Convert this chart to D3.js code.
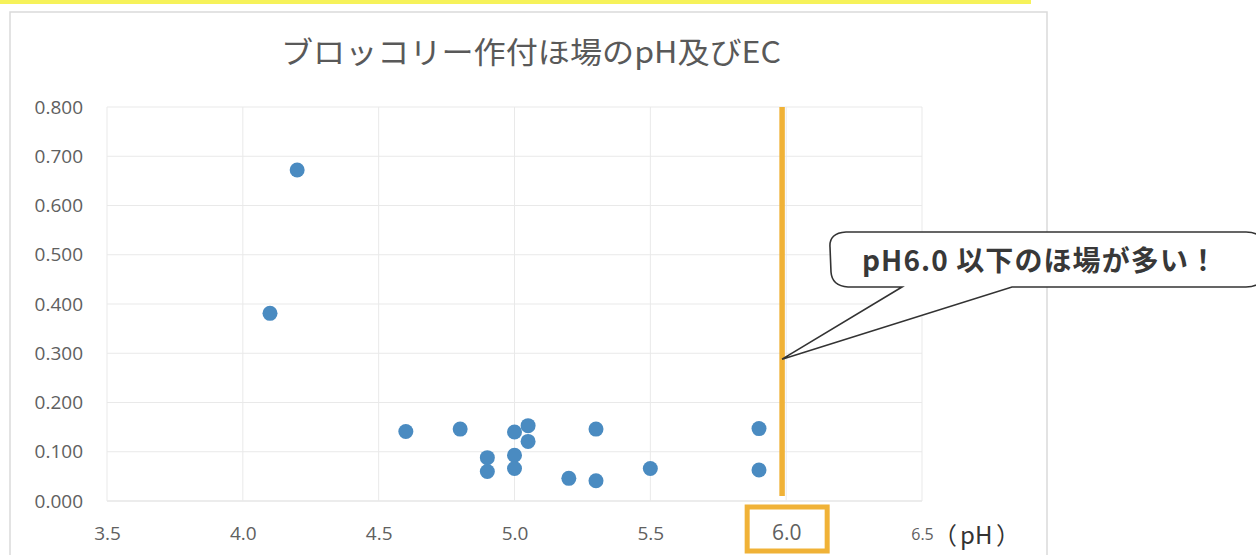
<!DOCTYPE html>
<html lang="ja">
<head>
<meta charset="utf-8">
<script src="https://cdn.jsdelivr.net/npm/d3@7"></script>
<style>
  html, body { margin: 0; padding: 0; background: #ffffff; }
  svg { display: block; }
</style>
</head>
<body>
<svg id="chart" width="1256" height="555"></svg>
<script>
// ブロッコリー作付ほ場の土壌 pH と EC（散布図）
const phValues = [4.2, 4.1, 4.6, 4.8, 4.9, 4.9, 5.0, 5.0, 5.0, 5.05, 5.05, 5.2, 5.3, 5.3, 5.5, 5.9, 5.9];
const ecValues = [0.672, 0.381, 0.141, 0.146, 0.088, 0.060, 0.140, 0.093, 0.066, 0.153, 0.121, 0.046, 0.146, 0.041, 0.066, 0.147, 0.063];

const xTicks = [3.5, 4.0, 4.5, 5.0, 5.5, 6.0, 6.5];
const yTicks = [0, 0.1, 0.2, 0.3, 0.4, 0.5, 0.6, 0.7, 0.8];

const titleText = "ブロッコリー作付ほ場のpH及びEC";
const calloutText = "pH6.0 以下のほ場が多い！";
const xUnitParts = ["（", "pH", "）"];

// pH 6.0 の目安線（手描きの縦線）と吹き出しの指す位置
const thresholdPH = 5.985;
const thresholdTop = 0.8;
const thresholdBottom = 0.01;
const pointerEC = 0.288;

const svg = d3.select("#chart");

const plot = { left: 107, right: 922, top: 107, bottom: 501 };
const x = d3.scaleLinear().domain([3.5, 6.5]).range([plot.left, plot.right]);
const y = d3.scaleLinear().domain([0, 0.8]).range([plot.bottom, plot.top]);

const tickFont = "'Open Sans', 'Noto Sans', sans-serif";
const jpFont = "'Noto Sans CJK JP', 'Noto Sans', sans-serif";

// 上端の黄色い帯
svg.append("rect")
  .attr("x", 0).attr("y", 0).attr("width", 1031).attr("height", 4)
  .attr("fill", "#f6f25a");

// グラフ枠
svg.append("rect")
  .attr("x", 10).attr("y", 12).attr("width", 1037).attr("height", 580)
  .attr("fill", "#ffffff").attr("stroke", "#dadada").attr("stroke-width", 1.5);

// タイトル
svg.append("text")
  .attr("x", 531).attr("y", 63)
  .attr("text-anchor", "middle")
  .attr("font-family", jpFont)
  .attr("font-size", 30)
  .attr("fill", "#595959")
  .attr("textLength", 500)
  .attr("lengthAdjust", "spacingAndGlyphs")
  .text(titleText);

// 目盛線
const grid = svg.append("g");
grid.selectAll("line.h").data(yTicks).join("line")
  .attr("class", "h")
  .attr("x1", plot.left).attr("x2", plot.right)
  .attr("y1", d => y(d)).attr("y2", d => y(d))
  .attr("stroke", d => d === 0 ? "#d9d9d9" : "#e9e9e9")
  .attr("stroke-width", 1);
grid.selectAll("line.v").data(xTicks).join("line")
  .attr("class", "v")
  .attr("x1", d => x(d)).attr("x2", d => x(d))
  .attr("y1", plot.top).attr("y2", plot.bottom)
  .attr("stroke", "#e9e9e9")
  .attr("stroke-width", 1);

// Y 軸
const yAxis = svg.append("g")
  .attr("transform", `translate(${plot.left},0)`)
  .call(d3.axisLeft(y).tickValues(yTicks).tickFormat(d3.format(".3f")).tickSize(0).tickPadding(24));
yAxis.select(".domain").remove();
yAxis.selectAll("text")
  .attr("font-family", tickFont).attr("font-size", 19).attr("fill", "#606060");

// X 軸（ラベルのベースラインをそろえる）
const xAxis = svg.append("g")
  .attr("transform", `translate(0,${plot.bottom})`)
  .call(d3.axisBottom(x).tickValues(xTicks).tickFormat(d3.format(".1f")).tickSize(0));
xAxis.select(".domain").remove();
xAxis.selectAll("text")
  .attr("dy", null)
  .attr("y", 39)
  .attr("font-family", tickFont)
  .attr("font-size", d => d === 6.0 ? 21 : (d === 6.5 ? 16 : 19))
  .attr("fill", "#606060");

// 6.0 の目盛ラベルを囲む枠
const boxed = 6.0;
svg.append("rect")
  .attr("x", x(boxed) - 39).attr("y", 507)
  .attr("width", 80).attr("height", 44)
  .attr("fill", "none")
  .attr("stroke", "#f0b237").attr("stroke-width", 5);

// 単位
const unit = svg.append("text")
  .attr("y", 544)
  .attr("font-family", jpFont)
  .attr("font-size", 24)
  .attr("fill", "#333333");
unit.selectAll("tspan").data(xUnitParts).join("tspan")
  .attr("x", (d, i) => [933, 960, 996][i])
  .text(d => d);

// 散布点
const points = phValues.map((ph, i) => ({ ph, ec: ecValues[i] }));
svg.append("g").selectAll("circle").data(points).join("circle")
  .attr("cx", d => x(d.ph))
  .attr("cy", d => y(d.ec))
  .attr("r", 7.5)
  .attr("fill", "#4a8bc1");

// pH 6.0 の縦線
svg.append("line")
  .attr("x1", x(thresholdPH)).attr("x2", x(thresholdPH))
  .attr("y1", y(thresholdTop)).attr("y2", y(thresholdBottom))
  .attr("stroke", "#f0b237").attr("stroke-width", 5.5);

// 吹き出し
const tipX = x(thresholdPH), tipY = y(pointerEC);
const bubble = d3.path();
bubble.moveTo(902, 287);
bubble.lineTo(tipX, tipY);
bubble.lineTo(1012, 287);
bubble.lineTo(1246, 287);
bubble.quadraticCurveTo(1264, 287, 1264, 270);
bubble.lineTo(1264, 249);
bubble.quadraticCurveTo(1264, 232, 1246, 232);
bubble.lineTo(846, 232);
bubble.quadraticCurveTo(829, 233, 830, 247);
bubble.lineTo(831, 272);
bubble.quadraticCurveTo(832, 286, 848, 287);
bubble.closePath();
svg.append("path")
  .attr("d", bubble.toString())
  .attr("fill", "#ffffff")
  .attr("stroke", "#333333")
  .attr("stroke-width", 1.6)
  .attr("stroke-linejoin", "miter");

svg.append("text")
  .attr("x", 862).attr("y", 271)
  .attr("font-family", jpFont)
  .attr("font-size", 28)
  .attr("font-weight", 700)
  .attr("fill", "#383838")
  .attr("textLength", 355)
  .attr("lengthAdjust", "spacing")
  .text(calloutText);
</script>
</body>
</html>
